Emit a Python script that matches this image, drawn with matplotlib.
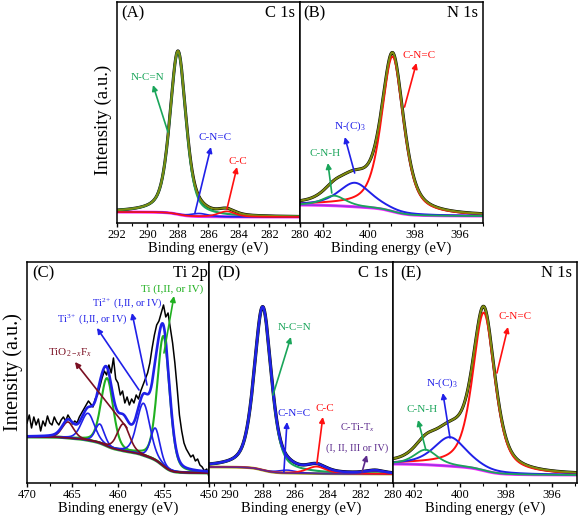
import numpy as np
import matplotlib.pyplot as plt
from matplotlib.ticker import MultipleLocator

plt.rcParams['font.family'] = ['Liberation Serif', 'DejaVu Serif']
plt.rcParams['mathtext.fontset'] = 'custom'
plt.rcParams['mathtext.rm'] = 'Liberation Serif'
plt.rcParams['mathtext.it'] = 'Liberation Serif:italic'
plt.rcParams['mathtext.bf'] = 'Liberation Serif:bold'

# peak centres (eV), heights above background (a.u.), FWHM (eV)
# (A) C 1s : N-C=N, C-N=C, C-C
a_center = [288.0, 286.6, 284.8]
a_height = [163, 3, 5.5]
a_fwhm = [1.25, 1.3, 1.3]
a_bg = [6, 11]          # background at low / high BE end

# (B) N 1s : C-N=C, N-(C)3, C-N-H
b_center = [398.95, 400.6, 401.5]
b_height = [155, 24, 10]
b_fwhm = [1.15, 1.7, 1.2]
b_bg = [7, 18]

# (C) Ti 2p
c_ti_center = [455.0, 461.2]
c_ti_height = [130, 68]
c_ti_fwhm = [1.6, 1.6]
c_tix_center = [455.9, 457.2, 462.0, 463.3]
c_tix_height = [32, 52, 19, 27]
c_tix_fwhm = [1.2, 1.7, 1.2, 1.7]
c_tio_center = [459.4, 465.5]
c_tio_height = [27, 16]
c_tio_fwhm = [1.6, 1.5]
c_bg = [10, 46]
c_raw = [60, 68, 55, 66, 58, 64, 52, 62, 57, 67,
         60, 58, 66, 61, 58, 63, 66, 62, 68, 64,
         59, 62, 60, 66, 70, 74, 78, 82, 79, 76,
         84, 88, 96, 105, 112, 108, 118, 110, 125, 104,
         100, 88, 92, 80, 86, 78, 84, 80, 88, 84,
         92, 98, 104, 110, 120, 135, 148, 158, 162, 170,
         178, 166, 170, 155, 140, 120, 95, 68, 52, 40,
         34, 30, 26, 28, 22, 24, 18, 16, 12, 14, 6]
c_raw_energy = np.linspace(470, 450, len(c_raw))

# (D) C 1s : N-C=N, C-N=C, C-C, C-Ti-Tx
d_center = [288.0, 286.5, 284.7, 281.1]
d_height = [163, 3, 7, 3]
d_fwhm = [1.25, 1.3, 1.4, 1.3]
d_bg = [9, 16]

# (E) N 1s : C-N=C, N-(C)3, C-N-H
e_center = [398.95, 400.42, 401.48]
e_height = [158, 29, 15]
e_fwhm = [1.15, 1.7, 1.2]
e_bg = [8, 19]

olive = '#7d8a10'
green = '#1aa55a'
blue = '#2020e8'
red = '#ff1010'
purple = '#9a32e6'
magenta = '#ff33ff'
maroon = '#7a0f22'
tigreen = '#20b020'
bggreen = '#3aa83a'
dbase = '#a8a820'
ctitx = '#5b2a8c'


def pseudo_voigt(x, c, h, w, eta):
    g = np.exp(-4 * np.log(2) * ((x - c) / w) ** 2)
    l = 1 / (1 + 4 * ((x - c) / w) ** 2)
    return h * (eta * l + (1 - eta) * g)


def build(x, centers, heights, fwhms, bg, eta):
    comps = [pseudo_voigt(x, c, h, w, eta) for c, h, w in zip(centers, heights, fwhms)]
    total = np.sum(comps, axis=0)
    frac = np.cumsum(total) / np.sum(total)   # Shirley-type step
    back = bg[0] + (bg[1] - bg[0]) * frac
    return back, [back + p for p in comps], back + total


def setup(ax, xlim, major, minor, tag, core, tagx, corex=0.972):
    ax.set_xlim(*xlim)
    ax.set_ylim(0, 221)
    ax.xaxis.set_major_locator(MultipleLocator(major))
    ax.xaxis.set_minor_locator(MultipleLocator(minor))
    ax.set_yticks([])
    ax.tick_params(axis='x', which='major', direction='out', length=3, width=1, labelsize=9, pad=1.5)
    ax.tick_params(axis='x', which='minor', direction='out', length=2, width=0.8)
    ax.set_xlabel('Binding energy (eV)', fontsize=10.5, labelpad=0)
    for s in ax.spines.values():
        s.set_linewidth(1.1)
    ax.text(tagx, 0.985, tag, transform=ax.transAxes, ha='left', va='top', fontsize=12)
    ax.text(corex, 0.985, core, transform=ax.transAxes, ha='right', va='top', fontsize=12)


def note(ax, text, pos, tail, head, col, size=8):
    ax.annotate('', xy=head, xytext=tail,
                arrowprops=dict(arrowstyle='-|>', color=col, lw=1.2, mutation_scale=8,
                                shrinkA=0, shrinkB=0))
    ax.text(pos[0], pos[1], text, color=col, fontsize=size, ha='center', va='center')


fig = plt.figure(figsize=(5.78, 5.19), dpi=100)
axA = fig.add_axes([0.2024, 0.5703, 0.3166, 0.4258])
axB = fig.add_axes([0.5190, 0.5703, 0.3166, 0.4258])
axC = fig.add_axes([0.0467, 0.0694, 0.3149, 0.4258])
axD = fig.add_axes([0.3616, 0.0694, 0.3183, 0.4258])
axE = fig.add_axes([0.6799, 0.0694, 0.3183, 0.4258])

# ---- (A)
x = np.linspace(280, 292, 700)
bg, comps, env = build(x, a_center, a_height, a_fwhm, a_bg, 0.5)
axA.plot(x, bg, color=magenta, lw=2.2)
axA.plot(x, bg, color=purple, lw=1.2)
axA.plot(x, env, color='black', lw=2.2)
axA.plot(x, comps[0], color=green, lw=1.6)
axA.plot(x, env, color=olive, lw=1.4)
axA.plot(x, comps[1], color=blue, lw=1.2)
axA.plot(x, comps[2], color=red, lw=1.2)
setup(axA, (292, 280), 2, 1, '(A)', 'C 1s', 0.022)
note(axA, 'N-C=N', (289.97, 146), (288.66, 91), (289.64, 138), green)
note(axA, 'C-N=C', (285.57, 86), (286.89, 10), (285.84, 76), blue)
note(axA, 'C-C', (284.07, 62), (284.79, 14), (284.13, 56), red)
fig.text(103 / 578, 1 - 120 / 519, 'Intensity (a.u.)', rotation=90, fontsize=13.5,
         ha='center', va='center')

# ---- (B)
x = np.linspace(395, 403, 700)
bg, comps, env = build(x, b_center, b_height, b_fwhm, b_bg, 0.6)
axB.plot(x, bg, color=magenta, lw=2.2)
axB.plot(x, bg, color=purple, lw=1.2)
axB.plot(x, env, color='black', lw=2.2)
axB.plot(x, comps[0], color=red, lw=1.4)
axB.plot(x, env, color=olive, lw=1.5)
axB.plot(x, comps[1], color=blue, lw=1.4)
axB.plot(x, comps[2], color=green, lw=1.3)
setup(axB, (403, 395), 2, 1, '(B)', 'N 1s', 0.02)
note(axB, 'C-N=C', (397.78, 168), (398.43, 116), (397.91, 160), red)
note(axB, 'N-(C)$_3$', (400.83, 97), (400.61, 50), (401.04, 86), blue)
note(axB, 'C-N-H', (401.91, 70), (401.61, 30), (401.78, 60), green)

# ---- (C)
x = np.linspace(450, 470, 800)
centers = c_ti_center + c_tix_center + c_tio_center
heights = c_ti_height + c_tix_height + c_tio_height
fwhms = c_ti_fwhm + c_tix_fwhm + c_tio_fwhm
bg, comps, env = build(x, centers, heights, fwhms, c_bg, 0.3)
axC.plot(c_raw_energy, c_raw, color='black', lw=1.1)
axC.plot(x, bg, color=bggreen, lw=2.2)
for p in comps[:2]:
    axC.plot(x, p, color=tigreen, lw=1.5)
for p in comps[2:6]:
    axC.plot(x, p, color=blue, lw=1.2)
for p in comps[6:]:
    axC.plot(x, p, color=maroon, lw=1.2)
axC.plot(x, env, color=blue, lw=1.9)
setup(axC, (470, 450), 5, 2.5, '(C)', 'Ti 2p', 0.027, 0.995)
note(axC, 'Ti (I,II, or IV)', (454.07, 194), (454.95, 130), (453.85, 187), tigreen)
note(axC, 'Ti$^{2+}$ (I,II, or IV)', (459.0, 180), (456.81, 98), (458.46, 170), blue, 7.5)
note(axC, 'Ti$^{3+}$ (I,II, or IV)', (462.86, 164), (457.69, 93), (462.31, 155), blue, 7.5)
note(axC, 'TiO$_{2-x}$F$_x$', (465.27, 130), (459.01, 55), (464.73, 121), maroon)
fig.text(13 / 578, 1 - 372 / 519, 'Intensity (a.u.)', rotation=90, fontsize=14.5,
         ha='center', va='center')

# ---- (D)
x = np.linspace(280, 291.3, 700)
bg, comps, env = build(x, d_center, d_height, d_fwhm, d_bg, 0.5)
axD.plot(x, env, color='black', lw=2.4)
axD.plot(x, bg, color=dbase, lw=2.0)
axD.plot(x, comps[0], color=green, lw=1.5)
axD.plot(x, comps[1], color=blue, lw=1.1)
axD.plot(x, comps[2], color=red, lw=1.3)
axD.plot(x, comps[3], color=ctitx, lw=1.1)
axD.plot(x, env, color=blue, lw=1.8)
setup(axD, (291.3, 280), 2, 1, '(D)', 'C 1s', 0.043)
note(axD, 'N-C=N', (286.02, 155), (287.37, 88), (286.27, 146), green)
note(axD, 'C-N=C', (286.09, 69), (286.7, 11), (286.51, 61), blue)
note(axD, 'C-C', (284.18, 74), (284.67, 20), (284.31, 66), red)
note(axD, 'C-Ti-T$_x$', (282.16, 55), (281.9, 11), (281.6, 28), ctitx, 7.5)
axD.text(282.22, 35, '(I, II, III or IV)', color=ctitx, fontsize=7.5, ha='center', va='center')

# ---- (E)
x = np.linspace(394.9, 402.9, 700)
bg, comps, env = build(x, e_center, e_height, e_fwhm, e_bg, 0.6)
axE.plot(x, bg, color=magenta, lw=2.2)
axE.plot(x, bg, color=purple, lw=1.2)
axE.plot(x, env, color='black', lw=2.2)
axE.plot(x, comps[0], color=red, lw=1.4)
axE.plot(x, env, color=olive, lw=1.5)
axE.plot(x, comps[1], color=blue, lw=1.4)
axE.plot(x, comps[2], color=green, lw=1.3)
setup(axE, (402.9, 394.9), 2, 1, '(E)', 'N 1s', 0.038)
note(axE, 'C-N=C', (397.6, 166), (398.38, 110), (397.9, 156), red)
note(axE, 'N-(C)$_3$', (400.77, 100), (400.42, 45), (400.73, 90), blue)
note(axE, 'C-N-H', (401.64, 73), (401.47, 33), (401.81, 63), green)

fig.savefig('out.png', dpi=100)
